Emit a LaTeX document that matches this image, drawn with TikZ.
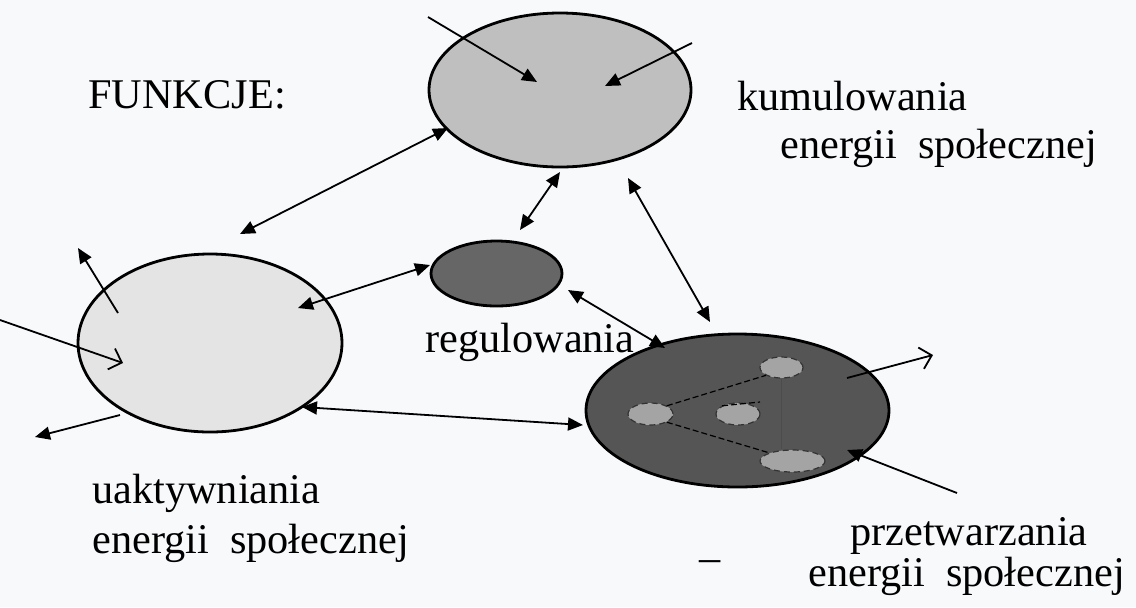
\documentclass[tikz,border=0pt]{standalone}
\usepackage{fontspec}
\setmainfont{Liberation Serif}
\usetikzlibrary{shapes.geometric,arrows.meta}
\definecolor{bgc}{HTML}{F7F9FB}
\definecolor{fT}{HTML}{BFBFBF}
\definecolor{fL}{HTML}{E4E4E4}
\definecolor{fS}{HTML}{666666}
\definecolor{fB}{HTML}{555555}
\definecolor{fI}{HTML}{A4A4A4}
\begin{document}
\begin{tikzpicture}[x=0.5pt,y=-0.5pt,
  blob/.style={ellipse,draw=black,line width=1.4pt,inner sep=0pt},
  innerblob/.style={ellipse,draw=black!80,densely dashed,line width=0.6pt,fill=fI,inner sep=0pt},
  lbl/.style={anchor=base west,inner sep=0pt,font=\fontsize{21.15pt}{25pt}\selectfont},
  con/.style={line width=0.9pt},
  fh/.style={con,-{Triangle[length=7.5pt,width=6.5pt]}},
  dh/.style={con,{Triangle[length=7.5pt,width=6.5pt]}-{Triangle[length=7.5pt,width=6.5pt]}},
  oh/.style={con,-{Straight Barb[length=5.5pt,width=11pt,line width=0.9pt]}},
  link/.style={line width=0.6pt,black,dash pattern=on 3pt off 1.5pt},
]
\fill[bgc] (0,0) rectangle (1136,607);
\useasboundingbox (0,0) rectangle (1136,607);

% main ellipses
\node[blob,fill=fT,minimum width=131pt,minimum height=77pt] (T) at (560,90) {};
\node[blob,fill=fL,minimum width=132pt,minimum height=89pt] (L) at (210,343) {};
\node[blob,fill=fS,minimum width=65.5pt,minimum height=32.5pt] (S) at (496.5,273.5) {};
\node[blob,fill=fB,minimum width=151.5pt,minimum height=76.5pt] (B) at (737.5,410.5) {};

% inner ellipses
\node[innerblob,minimum width=21.5pt,minimum height=10.5pt] (e1) at (781.5,367.5) {};
\node[innerblob,minimum width=22.5pt,minimum height=11pt] (e2) at (650.5,414) {};
\node[innerblob,minimum width=22pt,minimum height=11pt] (e3) at (738,414) {};
\node[innerblob,minimum width=32.5pt,minimum height=11pt] (e4) at (792.5,461) {};
\draw[link] (e2.north east) -- (e1.south west);
\draw[link] (e2.south east) -- (e4.north west);
\draw[line width=0.5pt,black!70] (e1.south) -- (e1.south |- e4.north);
\coordinate (e3r) at (760,402);
\draw[link] (e3.north west) -- (e3r);

% labels
\node[lbl] (fun) at (88,108) {FUNKCJE:};
\node[lbl] (kum) at (737,110) {kumulowania};
\node[lbl] (kum2) at (780,158) {energii\ \ społecznej};
\node[lbl] (reg) at (425,352) {regulowania};
\node[lbl] (uak) at (92,503) {uaktywniania};
\node[lbl] (uak2) at (92,553) {energii\ \ społecznej};
\node[lbl] (prz) at (850,545) {przetwarzania};
\node[lbl] (prz2) at (808,586) {energii\ \ społecznej};
\node[inner sep=0pt,font=\fontsize{21.15pt}{25pt}\selectfont] (dash) at (710,566) {–};

% arrow end points
\coordinate (Tin1s) at (428,17);  \coordinate (Tin1e) at (537,82);
\coordinate (Tin2s) at (692,43);  \coordinate (Tin2e) at (605,86);
\coordinate (LTa) at (240,234);   \coordinate (LTb) at (448,128);
\coordinate (Lout1s) at (118,313); \coordinate (Lout1e) at (78,248);
\coordinate (Lin1s) at (0,320);   \coordinate (Lin1e) at (123,363);
\coordinate (Lout2s) at (120,415); \coordinate (Lout2e) at (35,437);
\coordinate (LSa) at (298,308);   \coordinate (LSb) at (430,265);
\coordinate (LBa) at (302,407);   \coordinate (LBb) at (583,425);
\coordinate (TSa) at (560,172);   \coordinate (TSb) at (520,230);
\coordinate (TBa) at (628,178);   \coordinate (TBb) at (710,322);
\coordinate (SBa) at (568,290);   \coordinate (SBb) at (665,348);
\coordinate (Bout1s) at (847,378); \coordinate (Bout1e) at (933,355);
\coordinate (Bin1s) at (957,493); \coordinate (Bin1e) at (847,450);

% connectors
\draw[fh] (Tin1s) -- (Tin1e);
\draw[fh] (Tin2s) -- (Tin2e);
\draw[dh] (LTa) -- (LTb);
\draw[fh] (Lout1s) -- (Lout1e);
\draw[oh] (Lin1s) -- (Lin1e);
\draw[fh] (Lout2s) -- (Lout2e);
\draw[dh] (LSa) -- (LSb);
\draw[dh] (LBa) -- (LBb);
\draw[dh] (TSa) -- (TSb);
\draw[dh] (TBa) -- (TBb);
\draw[dh] (SBa) -- (SBb);
\draw[oh] (Bout1s) -- (Bout1e);
\draw[fh] (Bin1s) -- (Bin1e);
\end{tikzpicture}
\end{document}
